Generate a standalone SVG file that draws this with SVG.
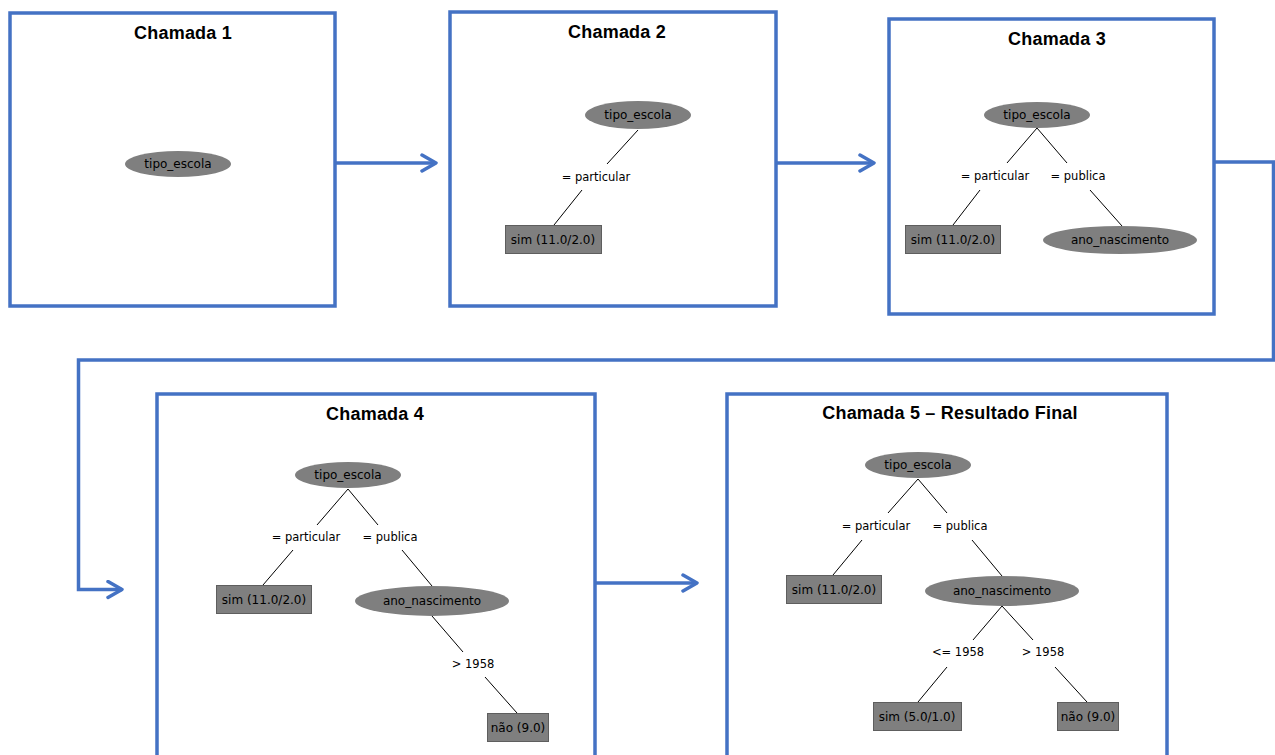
<svg xmlns="http://www.w3.org/2000/svg" width="1275" height="755" viewBox="0 0 1275 755">
<defs>
<style>
.frame{fill:#fff;stroke:#4472C4;stroke-width:3.5}
.title{font-family:"Liberation Sans",Arial,sans-serif;font-weight:bold;font-size:18px;fill:#000;text-anchor:middle;letter-spacing:0.2px}
.conn{fill:none;stroke:#4472C4;stroke-width:3.5}
.ell{fill:#7f7f7f}
.leaf{fill:#7f7f7f;stroke:#5e5e5e;stroke-width:1}
.edge{stroke:#000;stroke-width:1;fill:none}
.nt{font-family:"DejaVu Sans",sans-serif;font-size:12px;fill:#000;text-anchor:middle}
.lb{font-family:"DejaVu Sans",sans-serif;font-size:11.5px;fill:#000;text-anchor:middle}
</style>
<marker id="arr" viewBox="0 0 20 20" refX="17" refY="10" markerWidth="20" markerHeight="20" markerUnits="userSpaceOnUse" orient="auto">
<path d="M3,2 L17,10 L3,18" fill="none" stroke="#4472C4" stroke-width="3.5" stroke-linecap="round" stroke-linejoin="round"/>
</marker>
</defs>
<rect width="1275" height="755" fill="#fff"/>

<g id="connectors">
<path class="conn" d="M335,163 H436" marker-end="url(#arr)"/>
<path class="conn" d="M776,163 H874" marker-end="url(#arr)"/>
<path class="conn" d="M1215,162 H1273.5 V360 H78.5 V589.5 H122" marker-end="url(#arr)"/>
<path class="conn" d="M596,583 H697" marker-end="url(#arr)"/>
</g>

<g id="chamada1">
<rect class="frame" x="10" y="13" width="325" height="293"/>
<text class="title" x="183" y="39">Chamada 1</text>
<ellipse class="ell" cx="178" cy="164" rx="53" ry="13"/>
<text class="nt" x="178" y="168">tipo_escola</text>
</g>

<g id="chamada2">
<rect class="frame" x="450" y="12" width="326" height="294"/>
<text class="title" x="617" y="38">Chamada 2</text>
<line class="edge" x1="638" y1="130" x2="607" y2="164"/>
<line class="edge" x1="582" y1="190" x2="554" y2="225"/>
<ellipse class="ell" cx="638" cy="115" rx="53" ry="14"/>
<text class="nt" x="638" y="119">tipo_escola</text>
<text class="lb" x="596" y="181">= particular</text>
<rect class="leaf" x="505.5" y="225.5" width="96" height="28"/>
<text class="nt" x="553" y="244">sim (11.0/2.0)</text>
</g>

<g id="chamada3">
<rect class="frame" x="889" y="19" width="325" height="295"/>
<text class="title" x="1057" y="45">Chamada 3</text>
<line class="edge" x1="1037" y1="128" x2="1007" y2="163"/>
<line class="edge" x1="1037" y1="128" x2="1067" y2="163"/>
<line class="edge" x1="980" y1="190" x2="953" y2="225"/>
<line class="edge" x1="1090" y1="190" x2="1122" y2="226"/>
<ellipse class="ell" cx="1037" cy="115" rx="53" ry="13"/>
<text class="nt" x="1037" y="119">tipo_escola</text>
<text class="lb" x="995" y="180">= particular</text>
<text class="lb" x="1078" y="180">= publica</text>
<rect class="leaf" x="905.5" y="225.5" width="95" height="28"/>
<text class="nt" x="953" y="244">sim (11.0/2.0)</text>
<ellipse class="ell" cx="1120" cy="240" rx="77" ry="14"/>
<text class="nt" x="1120" y="244">ano_nascimento</text>
</g>

<g id="chamada4">
<rect class="frame" x="157" y="394" width="438" height="370"/>
<text class="title" x="375" y="420">Chamada 4</text>
<line class="edge" x1="348" y1="489" x2="317" y2="525"/>
<line class="edge" x1="348" y1="489" x2="378" y2="525"/>
<line class="edge" x1="293" y1="550" x2="263" y2="585"/>
<line class="edge" x1="402" y1="550" x2="432" y2="586"/>
<line class="edge" x1="432" y1="616" x2="463" y2="652"/>
<line class="edge" x1="485" y1="677" x2="517" y2="713"/>
<ellipse class="ell" cx="348" cy="475" rx="53" ry="13"/>
<text class="nt" x="348" y="479">tipo_escola</text>
<text class="lb" x="306" y="541">= particular</text>
<text class="lb" x="390" y="541">= publica</text>
<rect class="leaf" x="216.5" y="585.5" width="95" height="28"/>
<text class="nt" x="264" y="604">sim (11.0/2.0)</text>
<ellipse class="ell" cx="432" cy="601" rx="77" ry="15"/>
<text class="nt" x="432" y="605">ano_nascimento</text>
<text class="lb" x="473" y="668">&gt; 1958</text>
<rect class="leaf" x="487.5" y="713.5" width="61" height="28"/>
<text class="nt" x="518" y="732">não (9.0)</text>
</g>

<g id="chamada5">
<rect class="frame" x="727" y="394" width="440" height="370"/>
<text class="title" x="950" y="419">Chamada 5 – Resultado Final</text>
<line class="edge" x1="918" y1="479" x2="888" y2="513"/>
<line class="edge" x1="918" y1="479" x2="947" y2="513"/>
<line class="edge" x1="862" y1="540" x2="833" y2="575"/>
<line class="edge" x1="972" y1="540" x2="1002" y2="576"/>
<line class="edge" x1="1002" y1="606" x2="973" y2="640"/>
<line class="edge" x1="1002" y1="606" x2="1033" y2="640"/>
<line class="edge" x1="947" y1="667" x2="918" y2="702"/>
<line class="edge" x1="1055" y1="667" x2="1087" y2="702"/>
<ellipse class="ell" cx="918" cy="465" rx="53" ry="13"/>
<text class="nt" x="918" y="469">tipo_escola</text>
<text class="lb" x="876" y="530">= particular</text>
<text class="lb" x="960" y="530">= publica</text>
<rect class="leaf" x="786.5" y="575.5" width="95" height="28"/>
<text class="nt" x="834" y="594">sim (11.0/2.0)</text>
<ellipse class="ell" cx="1002" cy="591" rx="77" ry="15"/>
<text class="nt" x="1002" y="595">ano_nascimento</text>
<text class="lb" x="958" y="656">&lt;= 1958</text>
<text class="lb" x="1043" y="656">&gt; 1958</text>
<rect class="leaf" x="873.5" y="702.5" width="88" height="28"/>
<text class="nt" x="917" y="721">sim (5.0/1.0)</text>
<rect class="leaf" x="1057.5" y="702.5" width="61" height="28"/>
<text class="nt" x="1088" y="721">não (9.0)</text>
</g>
</svg>
